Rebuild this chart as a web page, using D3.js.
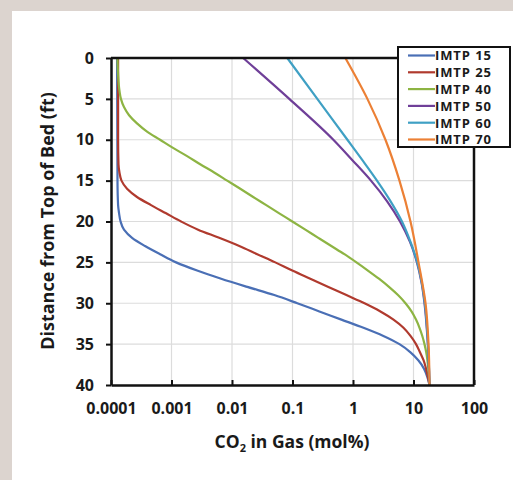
<!DOCTYPE html>
<html>
<head>
<meta charset="utf-8">
<script src="https://cdn.jsdelivr.net/npm/d3@7"></script>
<style>
  html, body { margin: 0; padding: 0; background: #dcd4cf; }
  svg { display: block; }
  text { font-family: "Open Sans", "Liberation Sans", sans-serif; font-weight: bold; fill: #1a1a1a; }
</style>
</head>
<body>
<svg id="chart" width="513" height="480"></svg>
<script>
// ---- data ----
const seriesNames = ["IMTP 15", "IMTP 25", "IMTP 40", "IMTP 50", "IMTP 60", "IMTP 70"];
const seriesColors = ["#4a6fb5", "#b03a2e", "#8db443", "#6f3f98", "#3fa0c4", "#ec8035"];

// depth (ft) and CO2 in gas (mol%)
const depth15 = [0, 15, 18, 19, 20, 21, 22, 23, 24, 25, 26, 27, 28, 29, 30, 31, 32, 33, 34, 35, 36, 37, 38, 39, 40];
const co2_15  = [1.26e-4, 1.28e-4, 1.31e-4, 1.36e-4, 1.44e-4, 1.64e-4, 2.23e-4, 3.65e-4, 6.47e-4, 1.19e-3, 2.65e-3, 6.62e-3, 0.0179, 0.05, 0.12, 0.278, 0.643, 1.49, 3.18, 5.86, 8.92, 12.1, 14.9, 16.9, 18.4];

const depth25 = [0, 10, 13, 14, 15, 16, 17, 18, 19, 20, 21, 22, 23, 24, 25, 26, 27, 28, 29, 30, 31, 32, 33, 34, 35, 36, 37, 38, 40];
const co2_25  = [1.31e-4, 1.31e-4, 1.33e-4, 1.38e-4, 1.49e-4, 1.84e-4, 2.69e-4, 4.59e-4, 8.14e-4, 1.44e-3, 2.75e-3, 6.14e-3, 0.0132, 0.0261, 0.0519, 0.0993, 0.197, 0.392, 0.778, 1.55, 2.84, 4.67, 6.83, 8.92, 11.0, 12.8, 14.7, 16.1, 18.4];

const depth40 = [0, 2, 4, 5, 6, 7, 8, 9, 10, 11, 12, 13, 14, 15, 16, 17, 18, 19, 20, 21, 22, 23, 24, 25, 26, 27, 28, 29, 30, 31, 32, 33, 34, 35, 36, 38, 40];
const co2_40  = [1.28e-4, 1.31e-4, 1.38e-4, 1.46e-4, 1.64e-4, 1.99e-4, 2.69e-4, 3.94e-4, 6.47e-4, 1.06e-3, 1.81e-3, 2.98e-3, 5.07e-3, 8.33e-3, 0.0137, 0.0224, 0.0368, 0.0604, 0.0993, 0.163, 0.267, 0.438, 0.721, 1.14, 1.765, 2.685, 3.93, 5.54, 7.37, 9.27, 11.0, 12.57, 13.98, 15.2, 16.23, 17.58, 18.4];

const depth50 = [0, 5, 10, 12.5, 15, 17.5, 20, 22.5, 25, 27.5, 30, 35, 40];
const co2_50  = [0.0153, 0.0885, 0.473, 0.977, 1.98, 3.64, 5.98, 8.75, 11.4, 13.6, 15.2, 17.25, 18.4];

const depth60 = [0, 5, 10, 12.5, 15, 17.5, 20, 22.5, 25, 27.5, 30, 35, 40];
const co2_60  = [0.082, 0.257, 0.808, 1.43, 2.49, 4.16, 6.45, 8.92, 11.56, 13.72, 15.39, 17.38, 18.4];

const depth70 = [0, 5, 10, 15, 20, 25, 30, 35, 40];
const co2_70  = [0.748, 1.73, 3.44, 5.86, 8.92, 12.1, 15.8, 17.72, 18.4];

const xTickValues = [0.0001, 0.001, 0.01, 0.1, 1, 10, 100];
const xTickLabels = ["0.0001", "0.001", "0.01", "0.1", "1", "10", "100"];
const yTickValues = [0, 5, 10, 15, 20, 25, 30, 35, 40];

const depths = [depth15, depth25, depth40, depth50, depth60, depth70];
const values = [co2_15, co2_25, co2_40, co2_50, co2_60, co2_70];

// ---- chart ----
const svg = d3.select("#chart");
svg.append("rect").attr("x", 12).attr("y", 11).attr("width", 501).attr("height", 469).attr("fill", "#ffffff");

const x = d3.scaleLog().domain([1e-4, 100]).range([111, 474]);
const y = d3.scaleLinear().domain([0, 40]).range([58, 385]);

// grid
const grid = svg.append("g");
grid.selectAll("line.v").data(xTickValues.slice(1, -1)).join("line")
  .attr("x1", d => x(d)).attr("x2", d => x(d)).attr("y1", y(0)).attr("y2", y(40))
  .attr("stroke", "#dcdcdc").attr("stroke-width", 1.2);
grid.selectAll("line.h").data(yTickValues.slice(1, -1)).join("line")
  .attr("y1", d => y(d)).attr("y2", d => y(d)).attr("x1", x(1e-4)).attr("x2", x(100))
  .attr("stroke", "#dcdcdc").attr("stroke-width", 1.2);

// curves
const line = d3.line().curve(d3.curveMonotoneY);
const curves = svg.append("g");
seriesNames.forEach((name, i) => {
  const pts = depths[i].map((d, j) => [x(values[i][j]), y(d)]);
  curves.append("path").attr("d", line(pts)).attr("fill", "none")
    .attr("stroke", seriesColors[i]).attr("stroke-width", 2.2);
});

// frame
svg.append("line").attr("x1", x(1e-4)).attr("x2", x(100)).attr("y1", y(0)).attr("y2", y(0))
  .attr("stroke", "#111").attr("stroke-width", 2.5);
svg.append("line").attr("x1", x(100)).attr("x2", x(100)).attr("y1", y(0)).attr("y2", y(40))
  .attr("stroke", "#111").attr("stroke-width", 2.5);

// axes
const xAxis = d3.axisBottom(x).tickValues(xTickValues)
  .tickFormat((d, i) => xTickLabels[i]).tickSize(-5).tickSizeOuter(0).tickPadding(18);
const gx = svg.append("g").attr("transform", `translate(0,${y(40)})`).call(xAxis);
gx.select(".domain").attr("stroke", "#111").attr("stroke-width", 2.5);
gx.selectAll(".tick line").attr("stroke", "#111").attr("stroke-width", 2);
gx.selectAll(".tick text").attr("font-size", 16).attr("font-family", null).attr("fill", "#1a1a1a");

const yAxis = d3.axisLeft(y).tickValues(yTickValues).tickSize(5).tickSizeOuter(0).tickPadding(12);
const gy = svg.append("g").attr("transform", `translate(${x(1e-4)},0)`).call(yAxis);
gy.select(".domain").attr("stroke", "#111").attr("stroke-width", 2.5);
gy.selectAll(".tick line").attr("stroke", "#111").attr("stroke-width", 2);
gy.selectAll(".tick text").attr("font-size", 16).attr("font-family", null).attr("fill", "#1a1a1a");

// axis titles
const xt = svg.append("text").attr("x", 292).attr("y", 448).attr("text-anchor", "middle").attr("font-size", 17.5);
xt.append("tspan").text("CO");
xt.append("tspan").attr("font-size", 11).attr("dy", 4).text("2");
xt.append("tspan").attr("dy", -4).text(" in Gas (mol%)");

svg.append("text").attr("transform", `translate(54,221) rotate(-90)`).attr("text-anchor", "middle")
  .attr("font-size", 18).text("Distance from Top of Bed (ft)");

// legend
const lg = svg.append("g");
lg.append("rect").attr("x", 398).attr("y", 47).attr("width", 112).attr("height", 100)
  .attr("fill", "#ffffff").attr("stroke", "#111").attr("stroke-width", 2);
seriesNames.forEach((name, i) => {
  const cy = 55.5 + i * 16.8;
  lg.append("line").attr("x1", 408).attr("x2", 435).attr("y1", cy).attr("y2", cy)
    .attr("stroke", seriesColors[i]).attr("stroke-width", 2.2);
  lg.append("text").attr("x", 435).attr("y", cy + 4.8).attr("font-size", 13)
    .attr("font-family", "'DejaVu Sans', sans-serif").attr("letter-spacing", 0.9).text(name);
});
</script>
</body>
</html>
